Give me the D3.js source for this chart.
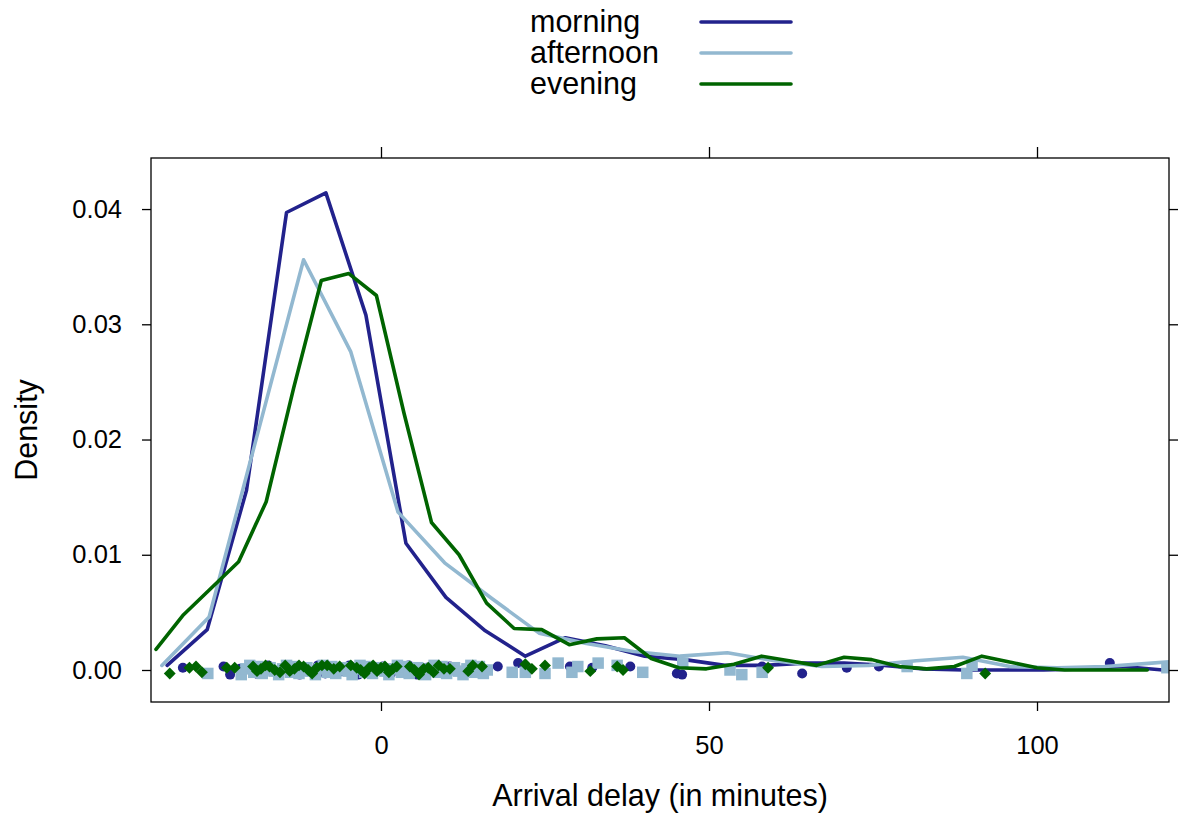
<!DOCTYPE html>
<html>
<head>
<meta charset="utf-8">
<script src="https://cdn.jsdelivr.net/npm/d3@7"></script>
<style>
  html, body { margin: 0; padding: 0; background: #fff; }
  svg { display: block; font-family: "Liberation Sans", Arial, Helvetica, sans-serif; }
</style>
</head>
<body>
<svg id="chart" width="1178" height="817"></svg>
<script>
// ---------- data ----------
const groups = ["morning", "afternoon", "evening"];
const groupColors = ["#22228C", "#92B8D0", "#006400"];

const xTicks = [0, 50, 100];
const yTicks = [0.00, 0.01, 0.02, 0.03, 0.04];
const yTickLabels = ["0.00", "0.01", "0.02", "0.03", "0.04"];

// density curves (x in minutes, y density)
const morningX = [-32.6, -26.5, -20.5, -14.4, -8.4, -2.3, 3.8, 9.9, 15.9, 22.0, 28.1, 34.2, 40.2, 46.3, 52.4, 58.5, 64.5, 70.6, 76.7, 82.7, 88.8, 94.9, 101.0, 107.0, 113.1, 119.2, 125.2];
const morningY = [0.0004, 0.0035, 0.0156, 0.0397, 0.0414, 0.0308, 0.0110, 0.0063, 0.0034, 0.0012, 0.0028, 0.0021, 0.0012, 0.0009, 0.0004, 0.0004, 0.0006, 0.0006, 0.0004, 0.0001, 0.0000, 0.0000, 0.0000, 0.0001, 0.0003, 0.0000, 0.0000];

const afternoonX = [-33.4, -26.2, -19.0, -11.8, -4.6, 2.6, 9.7, 16.9, 24.1, 31.3, 38.5, 45.6, 52.8, 60.0, 67.2, 74.4, 81.6, 88.7, 95.9, 103.1, 110.3, 117.5, 124.6];
const afternoonY = [0.0004, 0.0046, 0.0201, 0.0356, 0.0276, 0.0137, 0.0093, 0.0062, 0.0032, 0.0023, 0.0016, 0.0012, 0.0015, 0.0008, 0.0003, 0.0004, 0.0008, 0.0011, 0.0003, 0.0002, 0.0003, 0.0006, 0.0009];

const eveningX = [-34.3, -30.1, -25.9, -21.7, -17.5, -13.3, -9.1, -4.9, -0.7, 3.5, 7.7, 11.9, 16.1, 20.3, 24.5, 28.7, 32.9, 37.1, 41.2, 45.4, 49.6, 53.8, 58.0, 62.2, 66.4, 70.6, 74.8, 79.0, 83.2, 87.4, 91.6, 95.8, 100.0, 104.2, 108.4, 112.6, 116.8];
const eveningY = [0.0018, 0.0048, 0.0071, 0.0094, 0.0146, 0.0245, 0.0338, 0.0344, 0.0325, 0.0223, 0.0128, 0.0100, 0.0058, 0.0036, 0.0035, 0.0022, 0.0027, 0.0028, 0.0010, 0.0002, 0.0001, 0.0005, 0.0012, 0.0008, 0.0004, 0.0011, 0.0009, 0.0003, 0.0001, 0.0003, 0.0012, 0.0007, 0.0002, 0.0000, 0.0000, 0.0000, 0.0000];

// rug points (x in minutes, jittered y in density units)
const morningPtsX = [-30.2, -24.0, -23.0, -21.5, -19.0, -17.2, -15.5, -13.8, -12.4, -11.0, -9.6, -8.5, -7.2, -6.0, -4.8, -3.5, -2.2, -1.0, 0.3, 1.5, 2.8, 4.2, 5.5, 7.0, 8.8, 10.5, 12.6, 15.0, 17.8, 20.9, 28.8, 32.2, 38.0, 45.1, 45.9, 58.1, 64.2, 71.0, 75.9, 111.1];
const morningPtsY = [0.0002, 0.0003, -0.0004, 0.0001, -0.0003, 0.0004, -0.0002, 0.0003, -0.0004, 0.0001, 0.0004, -0.0003, 0.0002, -0.0001, 0.0004, -0.0004, 0.0002, -0.0002, 0.0003, -0.0003, 0.0001, 0.0004, -0.0004, 0.0002, -0.0001, 0.0003, -0.0003, 0.0001, 0.0003, 0.0006, 0.0003, 0.0002, 0.0003, -0.0003, -0.0004, 0.0003, -0.0003, 0.0002, 0.0003, 0.0006];

const afternoonPtsX = [-26.4, -21.3, -20.6, -20.0, -19.4, -18.8, -18.1, -17.5, -16.9, -16.3, -15.6, -15.0, -14.4, -13.8, -13.2, -12.5, -11.9, -11.3, -10.7, -10.0, -9.4, -8.8, -8.2, -7.5, -6.9, -6.3, -5.7, -5.0, -4.4, -3.8, -3.2, -2.5, -1.9, -1.3, -0.7, 0.0, 0.6, 1.2, 1.8, 2.5, 3.1, 3.7, 4.3, 5.0, 5.6, 6.2, 6.8, 7.5, 8.1, 8.7, 9.3, 10.0, 10.6, 11.2, 11.8, 12.5, 13.1, 13.7, 14.3, 15.0, 15.6, 16.2, 20.0, 22.0, 25.0, 27.0, 29.1, 30.0, 33.1, 36.0, 39.9, 46.0, 53.2, 55.0, 58.1, 80.2, 89.3, 90.1, 119.8];
const afternoonPtsY = [-0.0003,
  -0.0004, 0.0001, 0.0004, -0.0002, 0.0003, -0.0003, 0.0000, 0.0002, -0.0001,
  -0.0004, 0.0001, 0.0004, -0.0002, 0.0003, -0.0003, 0.0000, 0.0002, -0.0001,
  -0.0004, 0.0001, 0.0004, -0.0002, 0.0003, -0.0003, 0.0000, 0.0002, -0.0001,
  -0.0004, 0.0001, 0.0004, -0.0002, 0.0003, -0.0003, 0.0000, 0.0002, -0.0001,
  -0.0004, 0.0001, 0.0004, -0.0002, 0.0003, -0.0003, 0.0000, 0.0002, -0.0001,
  -0.0004, 0.0001, 0.0004, -0.0002, 0.0003, -0.0003, 0.0000, 0.0002, -0.0001,
  -0.0004, 0.0001, 0.0004, -0.0002, 0.0003, -0.0003, 0.0000,
  -0.0002, -0.0002, -0.0003, 0.0006, -0.0002, 0.0003, 0.0006, 0.0004, -0.0002, 0.0006, 0.0000, -0.0004, -0.0002, 0.0003, -0.0003, 0.0004, 0.0002];

const eveningPtsX = [-32.2, -29.2, -28.2, -27.3, -23.5, -22.3, -19.5, -18.9, -18.3, -17.6, -17.0, -16.2, -15.4, -14.6, -13.9, -13.2, -12.5, -11.8, -11.1, -10.5, -9.8, -9.0, -8.2, -7.2, -6.3, -4.6, -3.7, -3.1, -2.5, -1.8, -1.2, -0.6, 0.0, 0.6, 1.2, 1.8, 2.4, 4.4, 5.1, 5.8, 6.5, 7.2, 8.0, 8.8, 9.6, 10.5, 13.3, 14.0, 15.4, 22.0, 23.0, 25.0, 31.9, 36.0, 36.9, 59.0, 92.1];
const eveningPtsY = [-0.0003, 0.0002, 0.0003, -0.0002, 0.0002, 0.0002, 0.0003, -0.0001, 0.0001, 0.0004, 0.0003, 0.0000, -0.0002, 0.0004, -0.0001, 0.0001, 0.0004, 0.0003, 0.0000, -0.0003, 0.0002, 0.0004, 0.0004, 0.0001, 0.0003, 0.0004, 0.0002, 0.0000, -0.0003, 0.0002, 0.0004, -0.0001, 0.0002, 0.0003, -0.0002, 0.0001, 0.0003, 0.0003, 0.0000, -0.0004, 0.0001, 0.0002, -0.0002, 0.0004, 0.0001, 0.0001, -0.0001, 0.0004, 0.0003, 0.0005, 0.0001, 0.0004, -0.0001, 0.0003, 0.0000, 0.0002, -0.0003];

// ---------- layout ----------
const svg = d3.select("#chart");
const panel = { left: 151, right: 1169, top: 158, bottom: 702 };

const x = d3.scaleLinear().domain([-35.06, 120.12]).range([panel.left, panel.right]);
const y = d3.scaleLinear().domain([-0.002777, 0.04443]).range([panel.bottom, panel.top]);

const fontMain = 30.5, fontTick = 25.5;

svg.append("defs").append("clipPath").attr("id", "clip")
  .append("rect").attr("x", panel.left).attr("y", panel.top)
  .attr("width", panel.right - panel.left).attr("height", panel.bottom - panel.top);

const plot = svg.append("g").attr("clip-path", "url(#clip)");

const curves = [
  d3.zip(morningX, morningY),
  d3.zip(afternoonX, afternoonY),
  d3.zip(eveningX, eveningY)
];
const pts = [
  d3.zip(morningPtsX, morningPtsY),
  d3.zip(afternoonPtsX, afternoonPtsY),
  d3.zip(eveningPtsX, eveningPtsY)
];
// circle, square, diamond (square rotated 45deg)
const symbols = [d3.symbolCircle, d3.symbolSquare, d3.symbolSquare];
const symSizes = [Math.PI * 5 * 5, 11.5 * 11.5, 8.4 * 8.4];
const symRot = [0, 0, 45];

const line = d3.line().x(d => x(d[0])).y(d => y(d[1]));

groups.forEach((g, i) => {
  const sym = d3.symbol().type(symbols[i]).size(symSizes[i]);
  plot.append("g").selectAll("path").data(pts[i]).join("path")
    .attr("d", sym)
    .attr("transform", d => `translate(${x(d[0])},${y(d[1])}) rotate(${symRot[i]})`)
    .attr("fill", groupColors[i]);
  plot.append("path").datum(curves[i])
    .attr("d", line)
    .attr("fill", "none")
    .attr("stroke", groupColors[i])
    .attr("stroke-width", 3.6)
    .attr("stroke-linejoin", "round")
    .attr("stroke-linecap", "round");
});

// panel box
svg.append("rect").attr("x", panel.left).attr("y", panel.top)
  .attr("width", panel.right - panel.left).attr("height", panel.bottom - panel.top)
  .attr("fill", "none").attr("stroke", "#000").attr("stroke-width", 1.3);

// axes
const tickLen = 9;
const axB = svg.append("g").attr("transform", `translate(0,${panel.bottom})`)
  .call(d3.axisBottom(x).tickValues(xTicks).tickSize(tickLen).tickPadding(25).tickFormat(d3.format("d")));
const axT = svg.append("g").attr("transform", `translate(0,${panel.top})`)
  .call(d3.axisTop(x).tickValues(xTicks).tickSize(11).tickFormat(""));
const axL = svg.append("g").attr("transform", `translate(${panel.left},0)`)
  .call(d3.axisLeft(y).tickValues(yTicks).tickSize(tickLen).tickPadding(20).tickFormat((d, i) => yTickLabels[i]));
const axR = svg.append("g").attr("transform", `translate(${panel.right},0)`)
  .call(d3.axisRight(y).tickValues(yTicks).tickSize(tickLen).tickFormat(""));

[axB, axT, axL, axR].forEach(a => {
  a.select(".domain").remove();
  a.selectAll(".tick line").attr("stroke", "#000").attr("stroke-width", 1.3);
  a.selectAll(".tick text").attr("fill", "#000").attr("font-size", fontTick)
    .attr("font-family", "'Liberation Sans', Arial, sans-serif");
});

// axis titles
svg.append("text").attr("x", (panel.left + panel.right) / 2).attr("y", 806)
  .attr("text-anchor", "middle").attr("font-size", fontMain).attr("fill", "#000")
  .text("Arrival delay (in minutes)");
svg.append("text")
  .attr("transform", `translate(37,${(panel.top + panel.bottom) / 2}) rotate(-90)`)
  .attr("text-anchor", "middle").attr("font-size", fontMain).attr("fill", "#000")
  .text("Density");

// legend
const leg = svg.append("g");
groups.forEach((g, i) => {
  const cy = 22 + i * 31;
  leg.append("text").attr("x", 530).attr("y", cy + 10)
    .attr("font-size", fontMain).attr("fill", "#000").text(g);
  leg.append("line").attr("x1", 701).attr("x2", 791).attr("y1", cy).attr("y2", cy)
    .attr("stroke", groupColors[i]).attr("stroke-width", 3.6).attr("stroke-linecap", "round");
});
</script>
</body>
</html>
